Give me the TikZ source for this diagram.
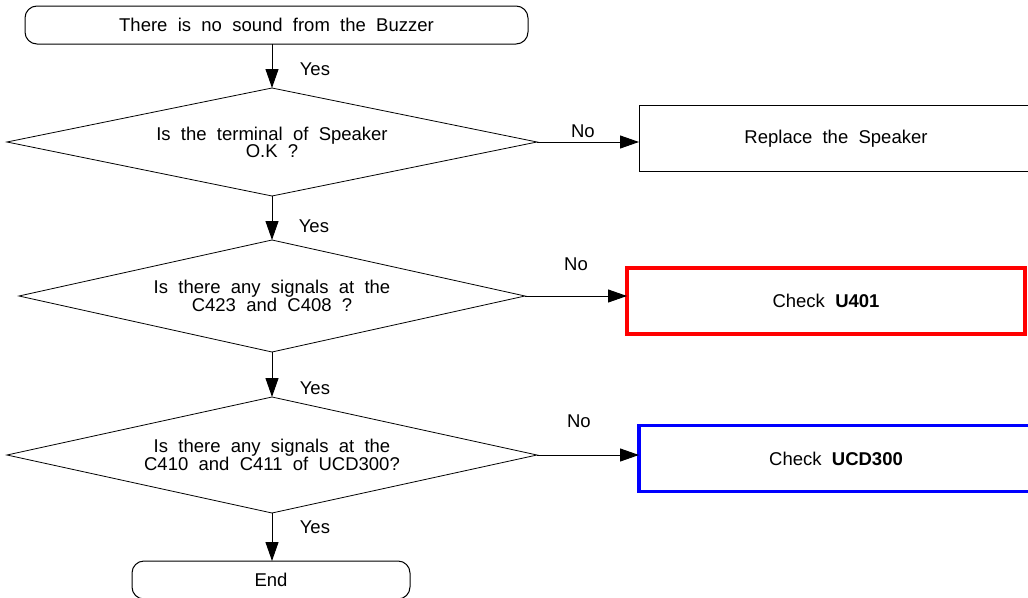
\documentclass[tikz,border=0pt]{standalone}
\usepackage{fontspec}
\setmainfont{Liberation Sans}[WordSpace=2]
\usetikzlibrary{positioning,arrows.meta,shapes.geometric}

\begin{document}
\begin{tikzpicture}[
		x=1pt, y=-1pt,
		node distance=45pt,
		every node/.style={font=\fontsize{18.5}{18}\selectfont},
		terminal/.style={rectangle, draw=black, line width=1pt, rounded corners=12pt, minimum height=38pt, inner sep=0pt, outer sep=0pt},
		decision/.style={diamond, draw=black, line width=0.8pt, aspect=5, inner sep=0pt, outer sep=0pt, align=center},
		action/.style={rectangle, draw=#1, minimum width=394pt, minimum height=66pt, inner sep=0pt, outer sep=0pt},
		arrow/.style={-{Triangle[length=19pt, width=13pt]}, line width=1pt}
		]
		
		\useasboundingbox (0,0) rectangle (1028,597);
		\clip (0,0) rectangle (1028,597);
		
		%==================== Nodes ====================%
		\node[terminal, minimum width=503pt] (start) at (276.5,25) {There is no sound from the Buzzer};
		\node[decision, minimum width=530pt, minimum height=108pt, below=44pt of start, xshift=-4.5pt] (speaker) {Is the terminal of Speaker\\[-1pt]O.K ?};
		\node[decision, minimum width=506pt, minimum height=112pt, below=44pt of speaker] (signal) {Is there any signals at the\\C423 and C408 ?};
		\node[decision, minimum width=530pt, minimum height=116pt, below=of signal] (ucd) {Is there any signals at the\\C410 and C411 of UCD300?};
		\node[terminal, minimum width=278pt, below=48pt of ucd, xshift=-1pt] (end) {End};
		
		\node[action=black, line width=1pt, right=102pt of speaker, yshift=3.5pt] (replace) {Replace the Speaker};
		\node[action=red, line width=3.5pt, minimum width=398pt, right=102pt of signal, yshift=-5pt] (u401) {Check \textbf{U401}};
		\node[action=blue, line width=3.5pt, right=102pt of ucd, yshift=-3.5pt] (ucdbox) {Check \textbf{UCD300}};
		
		%==================== Arrows ====================%
		\draw[arrow] (start.south -| speaker.north) -- (speaker.north) node[pos=0.57, right=24pt] {Yes};
		\draw[arrow] (speaker.south) -- (signal.north) node[pos=0.68, right=23pt] {Yes};
		\draw[arrow] (signal.south) -- (ucd.north) node[pos=0.8, right=24pt] {Yes};
		\draw[arrow] (ucd.south) -- (ucd.south |- end.north) node[pos=0.3, right=24pt] {Yes};
		
		\draw[arrow] (speaker.east) -- (speaker.east -| replace.west) node[pos=0.45, above] {No};
		\draw[arrow] (signal.east) -- (signal.east -| u401.west) node[pos=0.5, above=21.5pt] {No};
		\draw[arrow] (ucd.east) -- (ucd.east -| ucdbox.west) node[pos=0.41, above=23.5pt] {No};
		
	\end{tikzpicture}
\end{document}
